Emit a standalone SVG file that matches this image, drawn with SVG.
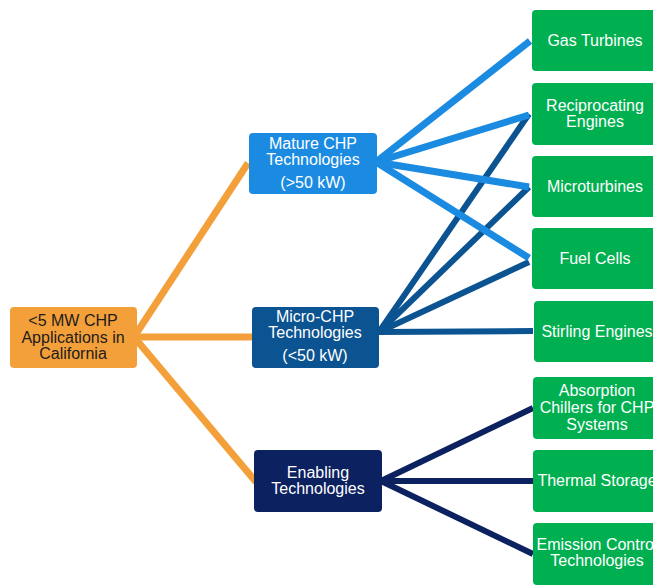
<svg xmlns="http://www.w3.org/2000/svg" width="653" height="585" viewBox="0 0 653 585">
  <style>
    .box { stroke: none; }
    .t { font-family: "Liberation Sans", Arial, sans-serif; font-size: 16px; text-anchor: middle; fill: #ffffff; }
    .dark { fill: #1c1c1c; }
    .c-or { stroke: #F4A03A; stroke-width: 7; fill: none; stroke-linecap: butt; }
    .c-lb { stroke: #1B8BE2; stroke-width: 7; fill: none; }
    .c-db { stroke: #0B5391; stroke-width: 6; fill: none; }
    .c-nv { stroke: #0C2160; stroke-width: 6; fill: none; }
    .green { fill: #00B050; }
  </style>

  <!-- connectors -->
  <g id="connectors">
    <line class="c-or" x1="134" y1="337" x2="248" y2="163"/>
    <line class="c-or" x1="134" y1="337" x2="253" y2="337"/>
    <line class="c-or" x1="134" y1="337" x2="256" y2="482"/>

    <line class="c-db" x1="379" y1="332" x2="529" y2="114"/>
    <line class="c-db" x1="379" y1="332" x2="529" y2="187"/>
    <line class="c-db" x1="379" y1="332" x2="529" y2="262"/>
    <line class="c-db" x1="379" y1="332" x2="533" y2="331"/>

    <line class="c-lb" x1="376" y1="162" x2="530" y2="41"/>
    <line class="c-lb" x1="376" y1="162" x2="529" y2="115"/>
    <line class="c-lb" x1="376" y1="162" x2="529" y2="187"/>
    <line class="c-lb" x1="376" y1="162" x2="529" y2="258"/>

    <line class="c-nv" x1="381" y1="481" x2="533" y2="408"/>
    <line class="c-nv" x1="381" y1="481" x2="533" y2="481"/>
    <line class="c-nv" x1="381" y1="481" x2="533" y2="554"/>
  </g>

  <!-- root -->
  <g id="root">
    <rect class="box" x="10" y="307" width="127" height="61" rx="4" fill="#F4A03A"/>
    <text class="t dark" x="73" y="326">&lt;5 MW CHP</text>
    <text class="t dark" x="73" y="343">Applications in</text>
    <text class="t dark" x="73" y="359">California</text>
  </g>

  <!-- category nodes -->
  <g id="mature">
    <rect class="box" x="249" y="133" width="128" height="61" rx="4" fill="#1B8BE2"/>
    <text class="t" x="313" y="149">Mature CHP</text>
    <text class="t" x="313" y="165">Technologies</text>
    <text class="t" x="313" y="188">(&gt;50 kW)</text>
  </g>
  <g id="micro">
    <rect class="box" x="252" y="307" width="127" height="61" rx="4" fill="#0B5391"/>
    <text class="t" x="315" y="322">Micro-CHP</text>
    <text class="t" x="315" y="338">Technologies</text>
    <text class="t" x="315" y="361">(&lt;50 kW)</text>
  </g>
  <g id="enabling">
    <rect class="box" x="254" y="450" width="128" height="62" rx="4" fill="#0C2160"/>
    <text class="t" x="318" y="478">Enabling</text>
    <text class="t" x="318" y="494">Technologies</text>
  </g>

  <!-- technology leaves -->
  <g id="gas-turbines">
    <rect class="box green" x="532" y="10" width="128" height="61" rx="4"/>
    <text class="t" x="595" y="46">Gas Turbines</text>
  </g>
  <g id="reciprocating">
    <rect class="box green" x="532" y="83" width="128" height="62" rx="4"/>
    <text class="t" x="595" y="111">Reciprocating</text>
    <text class="t" x="595" y="127">Engines</text>
  </g>
  <g id="microturbines">
    <rect class="box green" x="532" y="156" width="128" height="61" rx="4"/>
    <text class="t" x="595" y="192">Microturbines</text>
  </g>
  <g id="fuel-cells">
    <rect class="box green" x="532" y="228" width="128" height="61" rx="4"/>
    <text class="t" x="595" y="264">Fuel Cells</text>
  </g>
  <g id="stirling">
    <rect class="box green" x="534" y="301" width="128" height="61" rx="4"/>
    <text class="t" x="597" y="337">Stirling Engines</text>
  </g>
  <g id="absorption">
    <rect class="box green" x="533" y="377" width="128" height="62" rx="4"/>
    <text class="t" x="597" y="396">Absorption</text>
    <text class="t" x="597" y="413">Chillers for CHP</text>
    <text class="t" x="597" y="430">Systems</text>
  </g>
  <g id="thermal-storage">
    <rect class="box green" x="533" y="450" width="128" height="62" rx="4"/>
    <text class="t" x="597" y="486">Thermal Storage</text>
  </g>
  <g id="emission-control">
    <rect class="box green" x="533" y="523" width="128" height="62" rx="4"/>
    <text class="t" x="597" y="550">Emission Control</text>
    <text class="t" x="597" y="566">Technologies</text>
  </g>
</svg>
